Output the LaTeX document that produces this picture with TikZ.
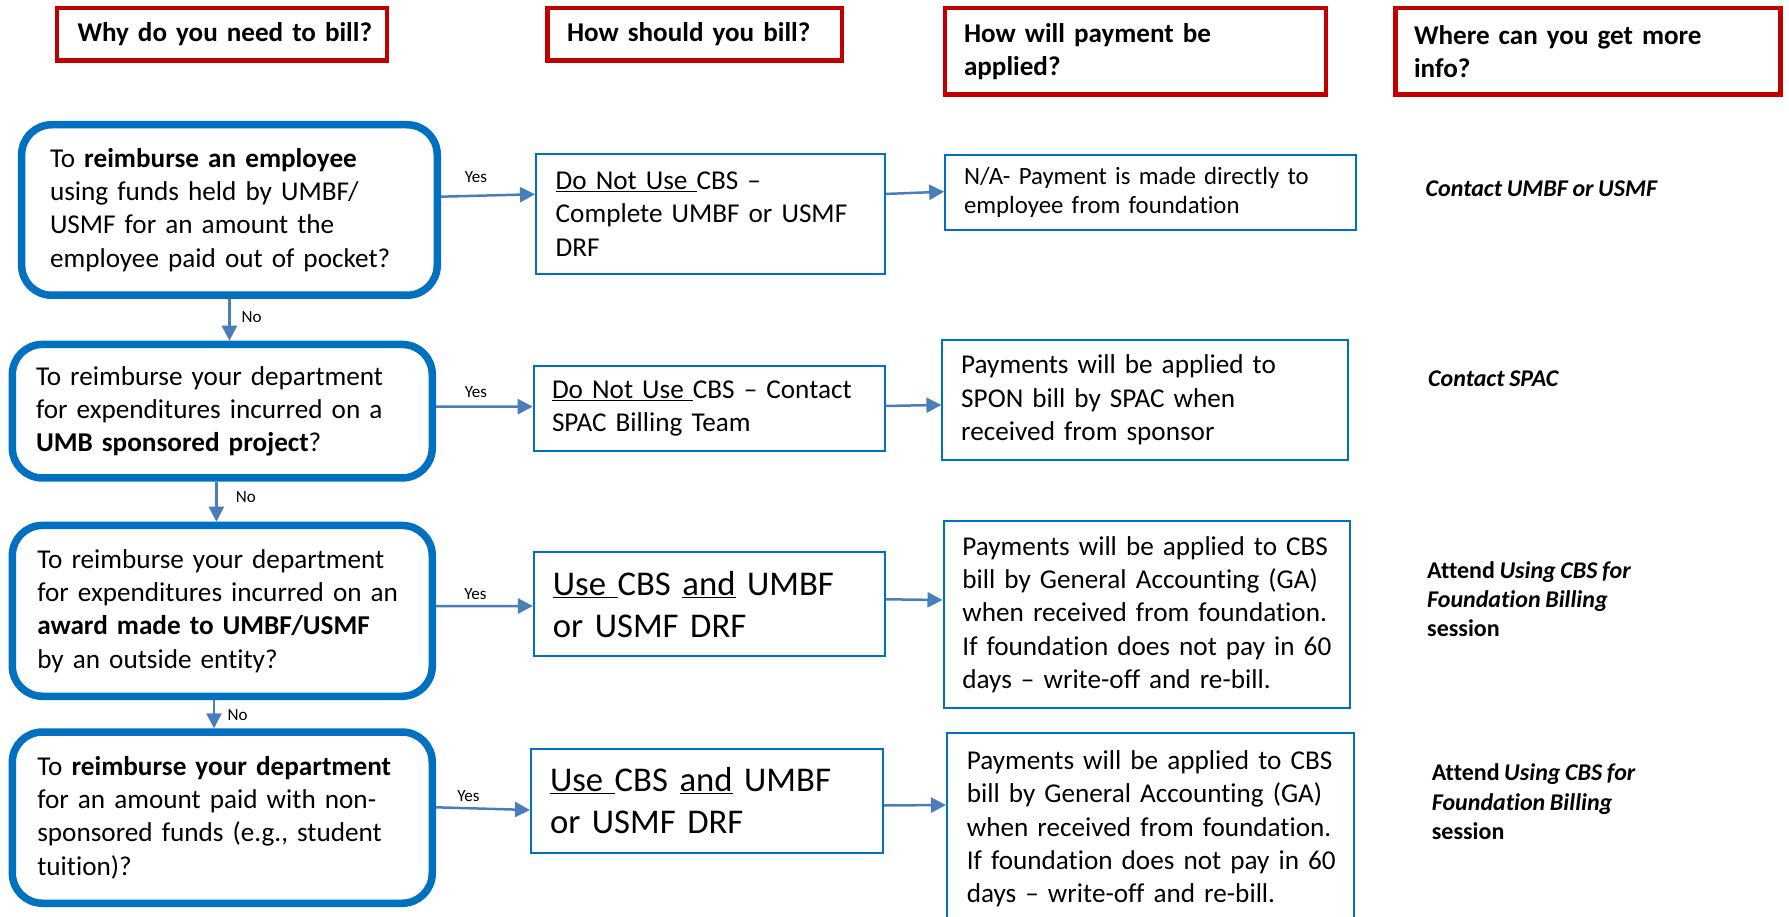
\documentclass[tikz,border=0pt]{standalone}
\usepackage{fontspec}
\setmainfont{Carlito}[WordSpace=0.85, Ligatures={TeX,NoCommon}]
\usetikzlibrary{arrows.meta}
\definecolor{hred}{HTML}{C00000}
\definecolor{qblue}{HTML}{0070C0}
\definecolor{ablue}{HTML}{4A7EBB}
\newcommand\LL[1]{\mbox{#1}}
\begin{document}
\begin{tikzpicture}[x=1pt,y=-1pt,
  geo/.style n args={4}{minimum width=#1pt, minimum height=#2pt, inner xsep=#3pt, text width=#4pt},
  hdr/.style={draw=hred, line width=4.5pt, anchor=north west, inner ysep=0pt, align=left,
    font=\fontsize{27.1}{33}\selectfont\bfseries},
  qbox/.style={draw=qblue, line width=7.5pt, rounded corners=30pt, anchor=north west, inner ysep=0pt, align=left,
    font=\fontsize{27.2}{33.3}\selectfont},
  abox/.style={draw=qblue, line width=2pt, anchor=north west, inner ysep=0pt, align=left,
    font=\fontsize{27.2}{33.3}\selectfont},
  bigtext/.style={font=\fontsize{34.7}{42}\selectfont},
  smalltext/.style={font=\fontsize{24.8}{28.4}\selectfont},
  info/.style={anchor=west, align=left, inner sep=0pt, font=\fontsize{24}{29.2}\selectfont\bfseries},
  lbl/.style={inner sep=0pt, font=\fontsize{17}{20}\selectfont},
  arr/.style={draw=ablue, line width=2.5pt, -{Triangle[length=15pt,width=15pt]}}
]
\useasboundingbox (0,0) rectangle (1789,917);

% headers
\node[hdr, geo={330}{52.5}{20.75}{288.5}] (H1) at (54.5,6) {\LL{Why do you need to bill?}};
\node[hdr, geo={294.5}{52.5}{19.75}{255}] (H2) at (545,6) {\LL{How should you bill?}};
\node[hdr, geo={381}{86.5}{19.25}{342.5}] (H3) at (942.5,6) {\LL{How will payment be}\\\LL{applied?}};
\node[hdr, geo={385}{86.5}{18.75}{347.5}] (H4) at (1393,6) {\LL{Where can you get more}\\\LL{info?}};

% questions
\node[qbox, geo={415.6}{170.5}{28.35}{358.9}] (Q1) at (17.9,121)
  {\LL{To \textbf{reimburse an employee}}\\\LL{using funds held by UMBF/}\\\LL{USMF for an amount the}\\\LL{employee paid out of pocket?}};
\node[qbox, geo={419.9}{133.5}{23.65}{372.6}] (Q2) at (8.6,340.7)
  {\LL{To reimburse your department}\\\LL{for expenditures incurred on a}\\\LL{\textbf{UMB sponsored project}?}};
\node[qbox, geo={419.9}{170.8}{24.95}{370}] (Q3) at (8.6,521.7)
  {\LL{To reimburse your department}\\\LL{for expenditures incurred on an}\\\LL{\textbf{award made to UMBF/USMF}}\\\LL{by an outside entity?}};
\node[qbox, geo={419.9}{171.2}{24.95}{370}] (Q4) at (8.6,728.3)
  {\LL{To \textbf{reimburse your department}}\\\LL{for an amount paid with non-}\\\LL{sponsored funds (e.g., student}\\\LL{tuition)?}};

% how to bill
\node[abox, geo={348.8}{119.7}{19.7}{309.4}] (A1) at (535,153.3)
  {\LL{\underline{Do Not Use\ }CBS –}\\\LL{Complete UMBF or USMF}\\\LL{DRF}};
\node[abox, geo={351}{85.3}{18.3}{314.4}] (A2) at (532.7,365)
  {\LL{\underline{Do Not Use\ }CBS – Contact}\\\LL{SPAC Billing Team}};
\node[abox, bigtext, geo={350.8}{104.3}{19}{312.8}] (A3) at (532.9,551)
  {\LL{\underline{Use\ }CBS \underline{and} UMBF}\\\LL{or USMF DRF}};
\node[abox, bigtext, geo={352}{104.6}{19}{314}] (A4) at (530,747.7)
  {\LL{\underline{Use\ }CBS \underline{and} UMBF}\\\LL{or USMF DRF}};

% payment
\node[abox, smalltext, geo={410.8}{75}{18.8}{373.2}] (P1) at (944.2,154)
  {\LL{N/A- Payment is made directly to}\\\LL{employee from foundation}};
\node[abox, geo={406}{119.3}{18.8}{368.4}] (P2) at (941.4,339.3)
  {\LL{Payments will be applied to}\\\LL{SPON bill by SPAC when}\\\LL{received from sponsor}};
\node[abox, geo={406}{187.3}{18.9}{368.2}] (P3) at (942.5,520)
  {\LL{Payments will be applied to CBS}\\\LL{bill by General Accounting (GA)}\\\LL{when received from foundation.}\\\LL{If foundation does not pay in 60}\\\LL{days – write-off and re-bill.}};
\node[abox, geo={406.6}{192}{19.8}{367}] (P4) at (946,732)
  {\LL{Payments will be applied to CBS}\\\LL{bill by General Accounting (GA)}\\\LL{when received from foundation.}\\\LL{If foundation does not pay in 60}\\\LL{days – write-off and re-bill.}};

% info
\node[info] (I1) at (1425.5,188.3) {\textit{Contact UMBF or USMF}};
\node[info] (I2) at (1428,379) {\textit{Contact SPAC}};
\node[info] (I3) at (1427,599) {Attend \textit{Using CBS for}\\\textit{Foundation Billing}\\session};
\node[info] (I4) at (1431.7,801.7) {Attend \textit{Using CBS for}\\\textit{Foundation Billing}\\session};

% yes arrows
\draw[arr] ([yshift=13.3pt]Q1.east) -- ([yshift=19.9pt]A1.west);
\draw[arr] ([yshift=4.5pt]Q2.east) -- ([yshift=2pt]A2.west);
\draw[arr] ([yshift=4.85pt]Q3.east) -- ([yshift=-1.85pt]A3.west);
\draw[arr] ([yshift=10.35pt]Q4.east) -- ([yshift=-9pt]A4.west);
% to payment
\draw[arr] ([yshift=20.2pt]A1.east) -- ([yshift=0.8pt]P1.west);
\draw[arr] ([yshift=2.7pt]A2.east) -- ([yshift=-5pt]P2.west);
\draw[arr] ([yshift=4.85pt]A3.east) -- ([yshift=14.65pt]P3.west);
\draw[arr] ([yshift=-4.5pt]A4.east) -- ([yshift=24pt]P4.west);
% no arrows
\draw[arr] (Q1.south) -- (Q1.south |- Q2.north);
\draw[arr] ([xshift=-5.9pt]Q2.south) -- ([xshift=-5.9pt]Q3.north);
\draw[arr] ([xshift=-8.3pt]Q3.south) -- ([xshift=-8.3pt]Q4.north);

% labels
\node[lbl] (Y1) at (476,176.7) {Yes};
\node[lbl] (Y2) at (476,391.7) {Yes};
\node[lbl] (Y3) at (475.5,594.3) {Yes};
\node[lbl] (Y4) at (468.5,796) {Yes};
\node[lbl] (N1) at (251.5,316.7) {No};
\node[lbl] (N2) at (245.8,496.7) {No};
\node[lbl] (N3) at (237.5,715) {No};
\end{tikzpicture}
\end{document}
